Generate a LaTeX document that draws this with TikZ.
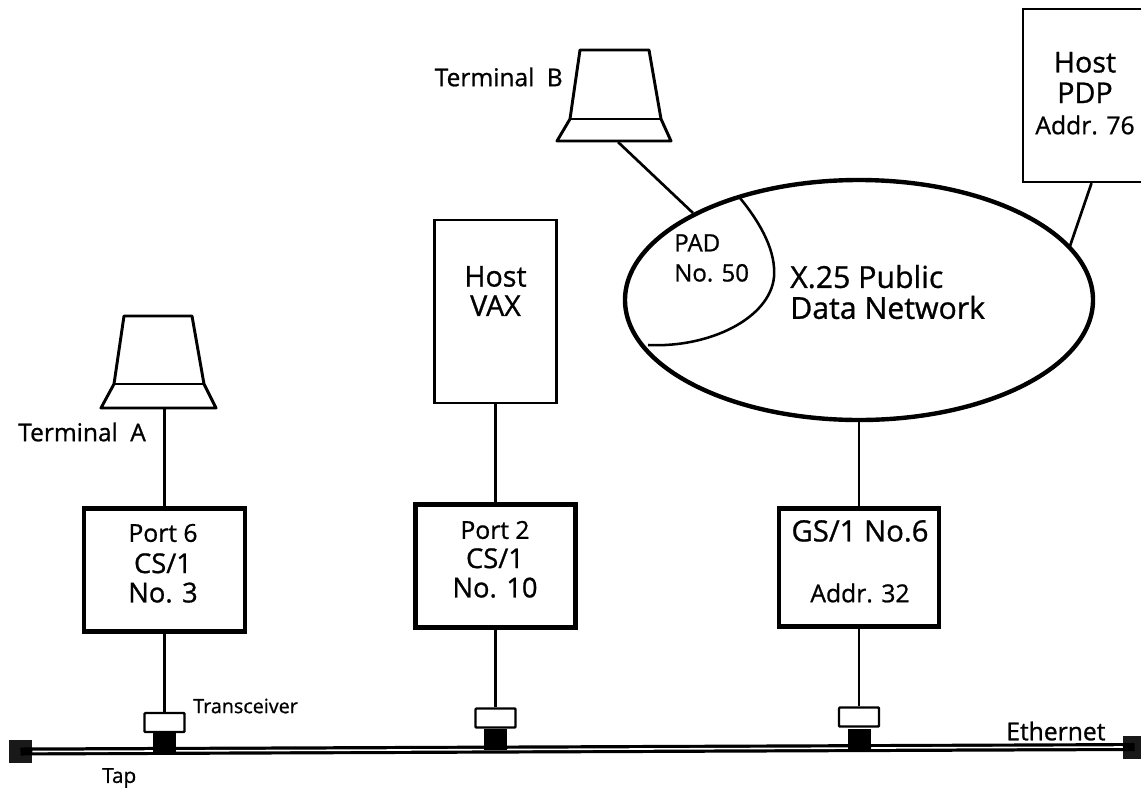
\documentclass[tikz,border=0pt]{standalone}
\usepackage{fontspec}
\setmainfont{Open Sans}[FakeBold=0.9]
\usetikzlibrary{shapes.geometric}
\tikzset{
  x=0.75pt,y=-0.75pt,
  box/.style={draw,line width=1.7pt,fill=white,inner sep=0pt},
  csbox/.style={draw,line width=3.5pt,fill=white,inner sep=0pt},
  wire/.style={line width=2pt},
  term/.style={line width=2.2pt,line join=round},
  xcvr/.style={draw,line width=1.8pt,fill=white,inner sep=0pt,minimum width=30pt,minimum height=14.25pt,rounded corners=0.7pt},
  tapbox/.style={fill=black,inner sep=0pt,minimum width=17.25pt,minimum height=15.75pt},
  endbox/.style={fill=black!90,inner sep=0pt,minimum width=17.25pt,minimum height=17.25pt},
  txt/.style={inner sep=0pt,align=center},
  fbig/.style={font=\fontsize{21.5}{23}\selectfont},
  fmid/.style={font=\fontsize{18.5}{22}\selectfont},
  fsmall/.style={font=\fontsize{15}{18}\selectfont}
}
\begin{document}
\begin{tikzpicture}
\useasboundingbox (0,0) rectangle (1141,789);
% Ethernet
\node[endbox] (eL) at (20.5,751.5) {};
\node[endbox] (eR) at (1134.5,747) {};
\draw[line width=6pt] (eL.center) -- (eR.center);
\draw[white,line width=1.2pt] (eL.east) -- (eR.west);
% network
\node[draw,ellipse,line width=3.3pt,minimum width=351pt,minimum height=180pt,inner sep=0pt] (net) at (859,300) {};
\draw[line width=1.9pt] (740,198) .. controls (762,225) and (776,252) .. (774,277) .. controls (770,318) and (710,348) .. (648,345);
\node[txt,anchor=west,align=left,font=\fontsize{18}{22.5}\selectfont] (padl) at (674,258) {PAD\\No. 50};
\node[txt,anchor=west,align=left,font=\fontsize{22.7}{23.2}\selectfont] (netl) at (790,292) {X.25 Public\\Data Network};
% hosts
\node[box,minimum width=91.5pt,minimum height=137.25pt] (vax) at (495.5,311.5) {};
\node[txt,fbig,font=\fontsize{21.5}{22}\selectfont] (vaxl) at (495.5,291) {Host\\VAX};
\node[box,minimum width=102.75pt,minimum height=129.75pt] (pdp) at (1091.5,95.5) {};
\node[txt,fbig] (pdpl) at (1085,77.5) {Host\\PDP};
\node[txt,fmid] (pdpa) at (1085,125) {Addr. 76};
% CS boxes
\node[csbox,minimum width=120.75pt,minimum height=92.25pt] (cs3) at (164.5,570) {};
\node[txt,fmid] (cs3p) at (163,533) {Port 6};
\node[txt,font=\fontsize{20.5}{22}\selectfont] (cs3l) at (163,578) {CS/1\\No. 3};
\node[csbox,minimum width=120pt,minimum height=92.25pt] (cs10) at (495.5,566) {};
\node[txt,fmid] (cs10p) at (495,530) {Port 2};
\node[txt,font=\fontsize{20.5}{22}\selectfont] (cs10l) at (495,573) {CS/1\\No. 10};
\node[csbox,minimum width=120pt,minimum height=88.5pt] (gs) at (859,567.5) {};
\node[txt,font=\fontsize{22}{22}\selectfont] (gsl) at (860,531) {GS/1 No.6};
\node[txt,fmid] (gsa) at (860,593) {Addr. 32};
% terminals
\draw[term,fill=white] (124,316) -- (192,316) -- (204,384) -- (216,408) -- (101,408) -- (114,384) -- cycle;
\draw[term] (114,384) -- (204,384);
\coordinate (tAb) at (164.5,408);
\draw[term,fill=white] (580,50) -- (649,50) -- (661,119) -- (671,141) -- (557,141) -- (570,119) -- cycle;
\draw[term] (570,119) -- (661,119);
\coordinate (tBb) at (618,142);
\coordinate (padin) at (693,213);
\coordinate (netr) at (1070,246);
\node[txt,font=\fontsize{18.4}{22}\selectfont,anchor=west] (tAl) at (18,432) {Terminal\hspace{0.25em} A};
\node[txt,font=\fontsize{18.4}{22}\selectfont,anchor=east] (tBl) at (563,77) {Terminal\hspace{0.25em} B};
% transceivers and taps
\node[tapbox] (t1) at (164.5,743.5) {};
\node[tapbox] (t2) at (495.5,739.5) {};
\node[tapbox] (t3) at (859,739) {};
\node[xcvr] (x1) at (164.5,722.5) {};
\node[xcvr] (x2) at (495.5,718) {};
\node[xcvr] (x3) at (859,717) {};
\draw[wire] (tAb) -- (cs3.north);
\draw[wire] (cs3.south) -- (x1.north);
\draw[wire] (vax.south) -- (cs10.north);
\draw[wire] (cs10.south) -- (x2.north);
\draw[wire] (net.south) -- (gs.north);
\draw[wire] (gs.south) -- (x3.north);
\draw[wire] (tBb) -- (padin);
\draw[wire] (netr) -- (pdp.south);
\node[txt,font=\fontsize{14.8}{18}\selectfont,anchor=west] (tr) at (193,706) {Transceiver};
\node[txt,font=\fontsize{15.5}{18}\selectfont,anchor=west] (tap) at (102,778) {Tap};
\node[txt,fmid,anchor=west] (eth) at (1006,731) {Ethernet};
\end{tikzpicture}
\end{document}
